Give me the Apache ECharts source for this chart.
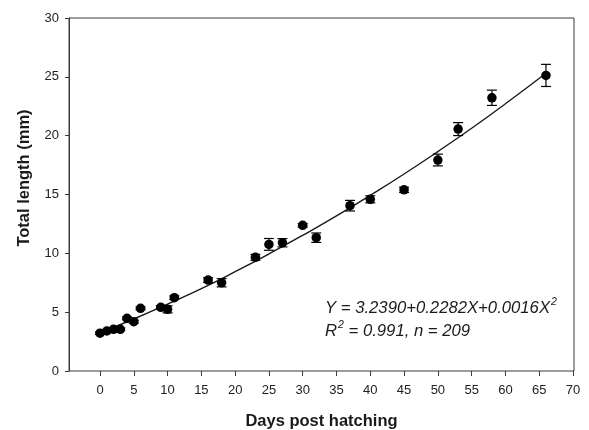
<!DOCTYPE html>
<html>
<head>
<meta charset="utf-8">
<script src="https://cdn.jsdelivr.net/npm/echarts@6/dist/echarts.min.js"></script>
<style>
html,body{margin:0;padding:0;background:#fff;}
#chart{width:589px;height:430px;}
</style>
</head>
<body>
<div id="chart"></div>
<script>
// Data
const days = [0, 1, 2, 3, 4, 5, 6, 9, 10, 11, 16, 18, 23, 25, 27, 30, 32, 37, 40, 45, 50, 53, 58, 66];
const lengths = [3.21, 3.40, 3.54, 3.54, 4.48, 4.19, 5.33, 5.41, 5.24, 6.23, 7.73, 7.50, 9.66, 10.76, 10.90, 12.38, 11.33, 14.05, 14.59, 15.40, 17.93, 20.56, 23.22, 25.12];
const errors = [0.10, 0.10, 0.10, 0.12, 0.12, 0.12, 0.12, 0.15, 0.30, 0.15, 0.20, 0.35, 0.25, 0.50, 0.35, 0.15, 0.40, 0.45, 0.30, 0.22, 0.50, 0.55, 0.65, 0.94];
const fitX = [0, 5, 10, 15, 20, 25, 30, 35, 40, 45, 50, 55, 60, 66];
const fitY = [3.24, 4.42, 5.68, 7.00, 8.44, 9.95, 11.53, 13.18, 14.93, 16.74, 18.65, 20.63, 22.71, 25.30];
const xTicks = [0, 5, 10, 15, 20, 25, 30, 35, 40, 45, 50, 55, 60, 65, 70];
const yTicks = [0, 5, 10, 15, 20, 25, 30];

const pts = days.map((d, i) => [d, lengths[i]]);
const errData = days.map((d, i) => [d, lengths[i] - errors[i], lengths[i] + errors[i]]);
const fitData = fitX.map((x, i) => [x, fitY[i]]);

const axisCol = '#3a3a3a';
const font = 'Liberation Sans, Arial, sans-serif';

const chart = echarts.init(document.getElementById('chart'), null, {renderer: 'canvas'});
chart.setOption({
  animation: false,
  backgroundColor: '#fff',
  title: {
    left: 325, top: 297, padding: 0,
    text: '{i|Y = 3.2390+0.2282X+0.0016X}{s|2}\n{i|R}{s|2}{i| = 0.991, n = 209}',
    textStyle: {
      fontWeight: 'normal',
      rich: {
        i: {fontFamily: font, fontStyle: 'italic', fontWeight: 'normal', fontSize: 16.7, color: '#1a1a1a', lineHeight: 23},
        s: {fontFamily: font, fontStyle: 'italic', fontWeight: 'normal', fontSize: 10.5, color: '#1a1a1a', lineHeight: 23, verticalAlign: 'top', padding: [0, 0, 4, 1]}
      }
    }
  },
  grid: [
    {left: 69, right: 15, top: 18, bottom: 59, show: true, borderColor: axisCol, borderWidth: 1, backgroundColor: 'transparent', outerBoundsMode: 'none', containLabel: false},
    {left: 100, right: 16, top: 18, bottom: 59, show: false, outerBoundsMode: 'none', containLabel: false}
  ],
  xAxis: [
    {
      gridIndex: 0, type: 'value', min: -4.6, max: 70,
      axisLine: {show: false, onZero: false}, axisTick: {show: false}, axisLabel: {show: false}, splitLine: {show: false},
      name: 'Days post hatching', nameLocation: 'middle', nameGap: 42,
      nameTextStyle: {fontFamily: font, fontWeight: 'bold', fontSize: 16.5, color: '#1a1a1a'}
    },
    {
      gridIndex: 1, type: 'value', min: xTicks[0], max: xTicks[xTicks.length - 1], interval: 5,
      axisLine: {show: false, onZero: false},
      axisTick: {show: true, length: 5, lineStyle: {color: axisCol, width: 1}},
      axisLabel: {margin: 13, fontFamily: font, fontSize: 13, color: '#222'},
      splitLine: {show: false}
    }
  ],
  yAxis: [
    {
      gridIndex: 0, type: 'value', min: yTicks[0], max: yTicks[yTicks.length - 1], interval: 5,
      axisLine: {show: true, onZero: false, lineStyle: {color: axisCol, width: 1}},
      axisTick: {show: true, length: 4, lineStyle: {color: axisCol, width: 1}},
      axisLabel: {margin: 10, fontFamily: font, fontSize: 13, color: '#222'},
      splitLine: {show: false},
      name: 'Total length (mm)', nameLocation: 'middle', nameGap: 36,
      nameTextStyle: {fontFamily: font, fontWeight: 'bold', fontSize: 16.5, color: '#1a1a1a', padding: [0, 0, 0, 33]}
    },
    {
      gridIndex: 1, type: 'value', min: 0, max: 30, show: false,
      axisLine: {show: false, onZero: false}
    }
  ],
  series: [
    {
      type: 'line', xAxisIndex: 1, yAxisIndex: 1, data: fitData, smooth: true,
      symbol: 'none', lineStyle: {color: '#1a1a1a', width: 1.4}, z: 2
    },
    {
      type: 'custom', xAxisIndex: 1, yAxisIndex: 1, data: errData, z: 3,
      renderItem: function (params, api) {
        const x = api.value(0);
        const lo = api.coord([x, api.value(1)]);
        const hi = api.coord([x, api.value(2)]);
        const hw = 5;
        const st = {stroke: '#000', lineWidth: 1.2};
        return {
          type: 'group',
          children: [
            {type: 'line', shape: {x1: lo[0], y1: lo[1], x2: hi[0], y2: hi[1]}, style: st},
            {type: 'line', shape: {x1: lo[0] - hw, y1: lo[1], x2: lo[0] + hw, y2: lo[1]}, style: st},
            {type: 'line', shape: {x1: hi[0] - hw, y1: hi[1], x2: hi[0] + hw, y2: hi[1]}, style: st}
          ]
        };
      }
    },
    {
      type: 'scatter', xAxisIndex: 1, yAxisIndex: 1, data: pts, symbol: 'circle', symbolSize: 9.5,
      itemStyle: {color: '#000', opacity: 1}, z: 4, clip: false
    }
  ]
});
</script>
</body>
</html>
